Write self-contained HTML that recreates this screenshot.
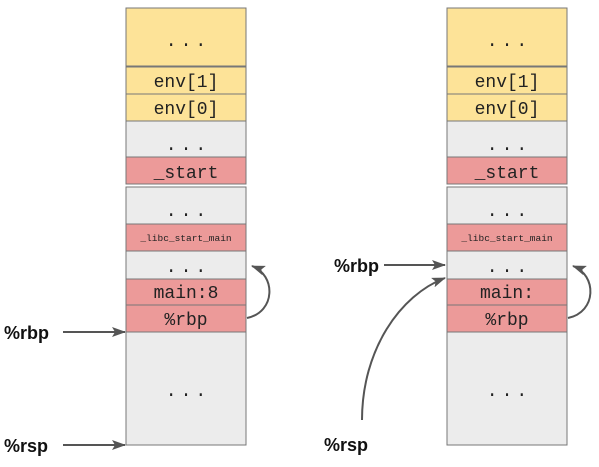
<!DOCTYPE html>
<html><head><style>body{margin:0;background:#fff}</style></head><body>
<svg width="599" height="462" xmlns="http://www.w3.org/2000/svg">
<defs>
<marker id="a" markerWidth="14" markerHeight="10" refX="13" refY="5" orient="auto" markerUnits="userSpaceOnUse"><path d="M0,0 L14,5 L0,10 L3,5 z" fill="#555"/></marker>
<g id="stack" font-family="'Liberation Mono',monospace" text-anchor="middle" stroke="#777" stroke-width="1">
<rect x="0" y="8" width="120" height="58" fill="#fde398"/>
<rect x="0" y="67" width="120" height="27" fill="#fde398"/>
<rect x="0" y="94" width="120" height="27" fill="#fde398"/>
<rect x="0" y="121" width="120" height="36" fill="#ececec"/>
<rect x="0" y="157" width="120" height="27" fill="#ec9a99"/>
<rect x="0" y="187" width="120" height="37" fill="#ececec"/>
<rect x="0" y="224" width="120" height="27" fill="#ec9a99"/>
<rect x="0" y="251" width="120" height="28" fill="#ececec"/>
<rect x="0" y="279" width="120" height="26" fill="#ec9a99"/>
<rect x="0" y="305" width="120" height="27" fill="#ec9a99"/>
<rect x="0" y="332" width="120" height="113" fill="#ececec"/>
<g stroke="none" fill="#222" font-size="18">
<text x="62" y="46" letter-spacing="4">...</text>
<text x="60" y="87">env[1]</text>
<text x="60" y="114">env[0]</text>
<text x="62" y="150" letter-spacing="4">...</text>
<text x="60" y="178">_start</text>
<text x="62" y="216" letter-spacing="4">...</text>
<text x="60" y="241" font-size="9.5">_libc_start_main</text>
<text x="62" y="272" letter-spacing="4">...</text>
<text x="60" y="325">%rbp</text>
<text x="62" y="396" letter-spacing="4">...</text>
</g>
<path d="M121,318 C150,312 150,275 126,266" fill="none" stroke="#555" stroke-width="2" marker-end="url(#a)"/>
</g>
</defs>
<use href="#stack" x="126"/>
<use href="#stack" x="447"/>
<g font-family="'Liberation Mono',monospace" text-anchor="middle" fill="#222" font-size="18">
<text x="186" y="298">main:8</text>
<text x="507" y="298">main:</text>
</g>
<g font-family="'Liberation Sans',sans-serif" font-weight="bold" font-size="18" fill="#111">
<text x="4" y="339">%rbp</text>
<text x="4" y="452">%rsp</text>
<text x="334" y="272">%rbp</text>
<text x="324" y="451">%rsp</text>
</g>
<g stroke="#555" stroke-width="2" fill="none" marker-end="url(#a)">
<path d="M63,332 L125,332"/>
<path d="M63,445 L125,445"/>
<path d="M384,265 L445,265"/>
<path d="M362,420 C362,350 400,295 445,278"/>
</g>
</svg>
</body></html>
